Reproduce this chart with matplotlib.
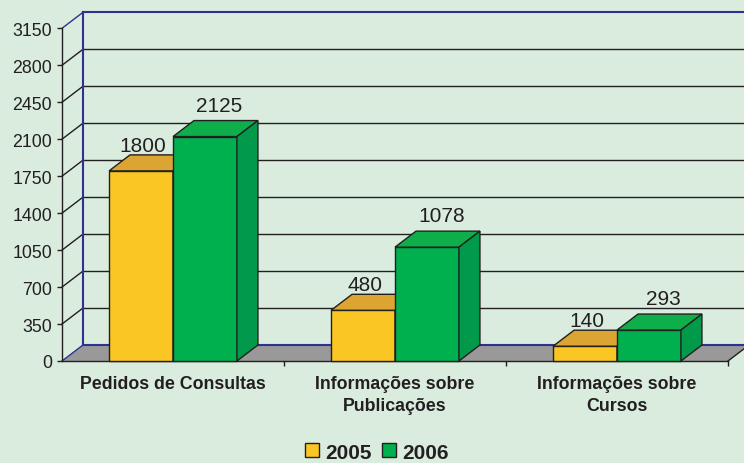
import matplotlib
matplotlib.use('Agg')
import matplotlib.pyplot as plt
from matplotlib.patches import Polygon, Patch

# data
categories = ['Pedidos de Consultas', 'Informações sobre\nPublicações', 'Informações sobre\nCursos']
series_names = ['2005', '2006']
values_2005 = [1800, 480, 140]
values_2006 = [2125, 1078, 293]
y_ticks = [0, 350, 700, 1050, 1400, 1750, 2100, 2450, 2800, 3150]

plt.rcParams['font.family'] = ['Liberation Sans', 'DejaVu Sans']

bg = '#d9ecde'
ink = '#231f20'
navy = '#2e3192'
floor_col = '#999999'
yellow = ('#f9c623', '#dca531', '#c99a20')  # front, top, side
green = ('#00b04f', '#0eae4a', '#009a4a')

W, H = 744, 464
fig = plt.figure(figsize=(W / 100, H / 100), dpi=100, facecolor=bg)
# front plane of the plot in pixels
px0, px1, py0, py1 = 62, 728, 362, 29.3
ax = fig.add_axes([px0 / W, (H - py0) / H, (px1 - px0) / W, (py0 - py1) / H])
ax.set_xlim(0, 3)
ax.set_ylim(0, 3150)
ax.patch.set_visible(False)
for s in ['top', 'right', 'bottom']:
    ax.spines[s].set_visible(False)
ax.spines['left'].set_color(ink)
ax.spines['left'].set_linewidth(1)

# depth offset (21 px right, 16 px up) in data units
DX = 21 / ((px1 - px0) / 3)
DY = 16 / ((py0 - py1) / 3150)

# floor
ax.add_patch(Polygon([(0, 0), (3, 0), (3 + DX, DY), (DX, DY)], closed=True,
                     fc=floor_col, ec='none', zorder=1, clip_on=False))
ax.plot([0, 3], [0, 0], color=ink, lw=1, zorder=2, clip_on=False)
ax.plot([3, 3 + DX], [0, DY], color=ink, lw=1, zorder=2, clip_on=False)
ax.plot([DX, 3 + DX], [DY, DY], color=navy, lw=1.5, zorder=2, clip_on=False)

# back wall grid + side wall diagonals
for t in y_ticks:
    c = navy if t in (0, 3150) else ink
    ax.plot([0, DX], [t, t + DY], color=c, lw=1, zorder=2, clip_on=False)
    if 0 < t < 3150:
        ax.plot([DX, 3 + DX], [t + DY, t + DY], color=ink, lw=1, zorder=1.5, clip_on=False)
ax.plot([DX, 3 + DX], [3150 + DY, 3150 + DY], color=navy, lw=1.5, zorder=2, clip_on=False)
ax.plot([DX, DX], [DY, 3150 + DY], color=navy, lw=1.5, zorder=2, clip_on=False)


def box(x, w, h, cols, lab_off):
    front, top, side = cols
    ax.add_patch(Polygon([(x, 0), (x + w, 0), (x + w, h), (x, h)], closed=True,
                         fc=front, ec=ink, lw=1, zorder=3, clip_on=False))
    ax.add_patch(Polygon([(x, h), (x + w, h), (x + w + DX, h + DY), (x + DX, h + DY)], closed=True,
                         fc=top, ec=ink, lw=1, zorder=3, clip_on=False))
    ax.add_patch(Polygon([(x + w, 0), (x + w + DX, DY), (x + w + DX, h + DY), (x + w, h)], closed=True,
                         fc=side, ec=ink, lw=1, zorder=3, clip_on=False))
    ax.annotate(str(h), (x + w / 2, h), xytext=lab_off, textcoords='offset points',
                ha='center', va='baseline', fontsize=15, color=ink, zorder=4)


bw = 0.288
for i in range(len(categories)):
    left = i + 0.5 - bw
    box(left, bw, values_2005[i], yellow, (1.4, 14.5))
    box(left + bw, bw, values_2006[i], green, (10.5, 18.5))

# axes ticks
ax.set_yticks(y_ticks)
ax.tick_params(axis='y', length=3.6, width=1, color=ink, pad=3.5, labelsize=12.8, labelcolor=ink)
ax.set_xticks([0.5, 1.5, 2.5])
ax.set_xticklabels(categories, fontsize=12.8, fontweight='bold', color=ink, linespacing=1.4)
ax.tick_params(axis='x', which='major', length=0, pad=10)
ax.set_xticks([1, 2, 3], minor=True)
ax.tick_params(axis='x', which='minor', length=3.6, width=1, color=ink)

fig.legend(handles=[Patch(fc=yellow[0], ec=ink, lw=1), Patch(fc=green[0], ec=ink, lw=1)],
           labels=series_names, loc='lower center', bbox_to_anchor=(377 / W, -0.024), ncol=2,
           frameon=False, prop={'size': 15, 'weight': 'bold'}, labelcolor=ink,
           handlelength=0.67, handleheight=0.67, handletextpad=0.3, columnspacing=0.5,
           borderpad=0.1)

fig.savefig('out.png', dpi=100, facecolor=bg)
